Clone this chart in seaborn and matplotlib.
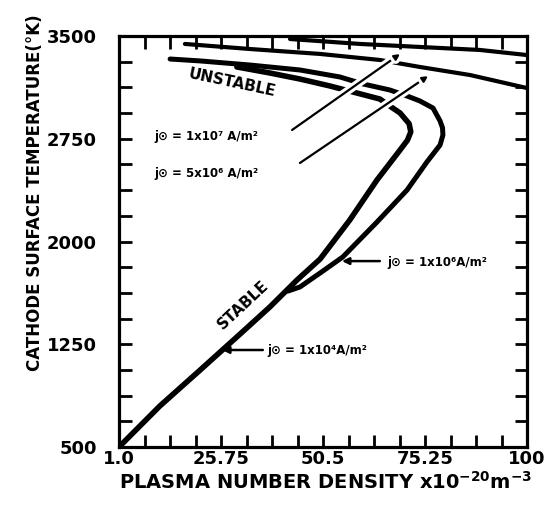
import numpy as np
import pandas as pd
import matplotlib
matplotlib.use("Agg")
import matplotlib.pyplot as plt
import matplotlib.patheffects as pe
import seaborn as sns

# ---- data (n in 1e20 m^-3, T in K) ----
# j = 1e4 A/m^2 : stable line that turns back (inner C curve)
n_j1e4 = [1.0, 10.9, 20.7, 30.4, 37.6, 44.2, 49.8, 57.0, 63.6, 69.2, 71.0, 71.8,
          71.4, 69.2, 66.7, 64.3, 57.8, 52.2, 44.9, 37.6, 29.6]
T_j1e4 = [500, 799, 1062, 1325, 1522, 1719, 1872, 2157, 2449, 2668, 2740, 2800,
          2860, 2938, 2989, 3040, 3091, 3135, 3186, 3230, 3274]

# j = 1e6 A/m^2 : outer C curve branching from the stable line
n_j1e6 = [42.0, 44.9, 49.8, 55.3, 63.6, 70.9, 75.7, 78.9, 79.6, 79.5, 78.9, 77.2,
          74.0, 70.9, 66.7, 60.2, 54.6, 44.9, 32.8, 20.7, 13.4]
T_j1e6 = [1638, 1668, 1770, 1887, 2142, 2376, 2580, 2704, 2777, 2830, 2880, 2974,
          3026, 3062, 3106, 3150, 3201, 3252, 3288, 3318, 3332]

# j = 5e6 A/m^2 : upper branch only
n_j5e6 = [17.0, 32.8, 49.8, 64.3, 74.0, 86.2, 100.0]
T_j5e6 = [3442, 3405, 3369, 3325, 3274, 3215, 3120]

# j = 1e7 A/m^2 : upper branch only
n_j1e7 = [42.5, 59.5, 74.0, 88.6, 100.0]
T_j1e7 = [3478, 3442, 3420, 3398, 3361]

x_tick_values = [1.0, 25.75, 50.5, 75.25, 100.0]
x_tick_labels = ["1.0", "25.75", "50.5", "75.25", "100"]
y_tick_values = [500, 1250, 2000, 2750, 3500]
y_tick_labels = ["500", "1250", "2000", "2750", "3500"]

curve_labels = ["j\u2299 = 1x10\u2077 A/m\u00b2", "j\u2299 = 5x10\u2076 A/m\u00b2",
                "j\u2299 = 1x10\u2076A/m\u00b2", "j\u2299 = 1x10\u2074A/m\u00b2"]

# ---- style ----
sns.set_theme(style="white")
plt.rcParams["font.family"] = ["DejaVu Sans"]
plt.rcParams["font.weight"] = "bold"
plt.rcParams["mathtext.default"] = "bf"
for k in ["text.color", "axes.labelcolor", "xtick.color", "ytick.color", "axes.edgecolor"]:
    plt.rcParams[k] = "black"

fig = plt.figure(figsize=(5.54, 5.15), dpi=100)
ax = fig.add_axes([119 / 554, 1 - 447 / 515, 408 / 554, 411 / 515])

def draw(n, T, lw):
    d = pd.DataFrame({"n": n, "T": T})
    sns.lineplot(data=d, x="n", y="T", sort=False, estimator=None, color="black",
                 lw=lw, ax=ax, solid_capstyle="round", solid_joinstyle="round")

draw(n_j1e4, T_j1e4, 4.0)
draw(n_j1e6, T_j1e6, 3.6)
draw(n_j5e6, T_j5e6, 3.0)
draw(n_j1e7, T_j1e7, 3.0)

ax.set_xlim(1, 100)
ax.set_ylim(500, 3500)
ax.set_xticks(x_tick_values)
ax.set_xticklabels(x_tick_labels)
ax.set_yticks(y_tick_values)
ax.set_yticklabels(y_tick_labels)
ax.set_xticks(np.linspace(1, 100, 17), minor=True)
ax.set_yticks(np.arange(500, 3501, 187.5), minor=True)
ax.tick_params(which="both", direction="in", length=9, width=2, color="black",
               top=True, right=True, bottom=True, left=True)
ax.tick_params(axis="x", which="major", labelsize=13, pad=2, labelcolor="black")
ax.tick_params(axis="y", which="major", labelsize=13, pad=16, labelcolor="black")
for lab in ax.get_xticklabels() + ax.get_yticklabels():
    lab.set_fontweight("bold")
for s in ax.spines.values():
    s.set_visible(True)
    s.set_color("black")
    s.set_linewidth(2.3)
ax.set_xlabel("")
ax.set_ylabel("")

# leader lines with white halo (gaps in curves)
halo = [pe.withStroke(linewidth=6, foreground="white")]
for tail, tip in [((43.0, 2814), (69.2, 3369)), ((44.9, 2573), (76.0, 3208))]:
    a = ax.annotate("", xy=tip, xytext=tail,
                    arrowprops=dict(arrowstyle="-|>", lw=1.6, color="black",
                                    mutation_scale=8, shrinkA=0, shrinkB=0))
    a.arrow_patch.set_path_effects(halo)
    a.set_zorder(5)
for tail, tip in [((64.3, 1857), (55.1, 1857)), ((35.9, 1208), (26.0, 1208))]:
    ax.annotate("", xy=tip, xytext=tail,
                arrowprops=dict(arrowstyle="-|>", lw=1.8, color="black",
                                mutation_scale=10, shrinkA=0, shrinkB=0))

lab_pos = [(9.7, 2770), (9.7, 2493), (66.0, 1850), (37.1, 1208)]
for txt, (x, y) in zip(curve_labels, lab_pos):
    ax.text(x, y, txt, ha="left", va="center", fontsize=8.5, fontweight="bold",
            color="black")

ax.text(31.1, 1536, "STABLE", rotation=43, ha="center", va="center",
        fontsize=11, fontweight="bold", color="black")
ax.text(28.4, 3157, "UNSTABLE", rotation=-12, ha="center", va="center",
        fontsize=11, fontweight="bold", color="black")

fig.text(35 / 554, 1 - 193 / 515, "CATHODE SURFACE TEMPERATURE(\u00b0K)",
         rotation=90, ha="center", va="center", fontsize=12, fontweight="bold",
         color="black")
fig.text(326 / 554, 1 - 482 / 515, "PLASMA NUMBER DENSITY x10$^{-20}$m$^{-3}$",
         ha="center", va="center", fontsize=14, fontweight="bold", color="black")

fig.savefig("out.png", dpi=100)
